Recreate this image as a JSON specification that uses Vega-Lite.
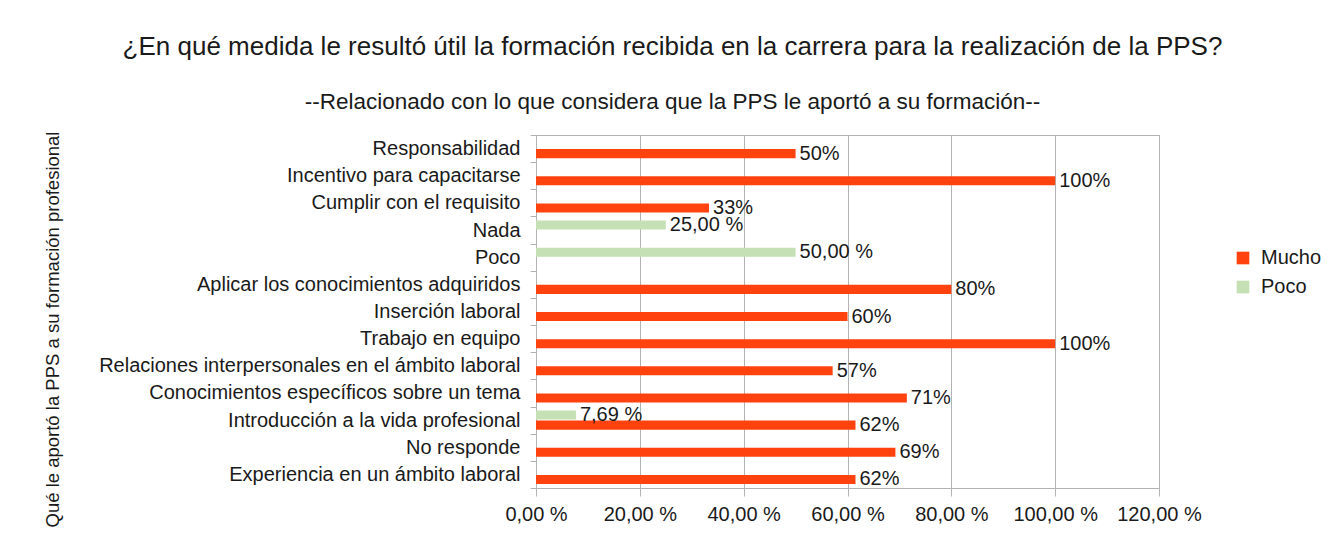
{
  "$schema": "https://vega.github.io/schema/vega-lite/v6.json",
  "width": 623,
  "height": 353,
  "autosize": {"type": "none"},
  "padding": {"left": 536, "top": 135, "right": 177, "bottom": 48},
  "background": "white",
  "title": {
    "text": "¿En qué medida le resultó útil la formación recibida en la carrera para la realización de la PPS?",
    "subtitle": "--Relacionado con lo que considera que la PPS le aportó a su formación--",
    "anchor": "middle",
    "frame": "group",
    "dx": -175,
    "offset": 12,
    "font": "Liberation Sans",
    "fontSize": 26,
    "fontWeight": "normal",
    "color": "#1a1a1a",
    "subtitleFont": "Liberation Sans",
    "subtitleFontSize": 22.5,
    "subtitleColor": "#1a1a1a",
    "subtitlePadding": 31
  },
  "data": {
    "values": [
      {"cat": "Responsabilidad", "serie": "Mucho", "v": 50, "label": "50%"},
      {"cat": "Incentivo para capacitarse", "serie": "Mucho", "v": 100, "label": "100%"},
      {"cat": "Cumplir con el requisito", "serie": "Mucho", "v": 33.33, "label": "33%"},
      {"cat": "Nada", "serie": "Poco", "v": 25, "label": "25,00 %"},
      {"cat": "Poco", "serie": "Poco", "v": 50, "label": "50,00 %"},
      {"cat": "Aplicar los conocimientos adquiridos", "serie": "Mucho", "v": 80, "label": "80%"},
      {"cat": "Inserción laboral", "serie": "Mucho", "v": 60, "label": "60%"},
      {"cat": "Trabajo en equipo", "serie": "Mucho", "v": 100, "label": "100%"},
      {"cat": "Relaciones interpersonales en el ámbito laboral", "serie": "Mucho", "v": 57.14, "label": "57%"},
      {"cat": "Conocimientos específicos sobre un tema", "serie": "Mucho", "v": 71.43, "label": "71%"},
      {"cat": "Introducción a la vida profesional", "serie": "Poco", "v": 7.69, "label": "7,69 %"},
      {"cat": "Introducción a la vida profesional", "serie": "Mucho", "v": 61.54, "label": "62%"},
      {"cat": "No responde", "serie": "Mucho", "v": 69.23, "label": "69%"},
      {"cat": "Experiencia en un ámbito laboral", "serie": "Mucho", "v": 61.54, "label": "62%"}
    ]
  },
  "encoding": {
    "y": {
      "field": "cat",
      "type": "nominal",
      "sort": ["Responsabilidad", "Incentivo para capacitarse", "Cumplir con el requisito", "Nada", "Poco", "Aplicar los conocimientos adquiridos", "Inserción laboral", "Trabajo en equipo", "Relaciones interpersonales en el ámbito laboral", "Conocimientos específicos sobre un tema", "Introducción a la vida profesional", "No responde", "Experiencia en un ámbito laboral"],
      "scale": {"paddingInner": 0, "paddingOuter": 0},
      "axis": {
        "title": "Qué le aportó la PPS a su formación profesional",
        "titleFont": "Liberation Sans",
        "titleFontSize": 18.5,
        "titleFontWeight": "normal",
        "titleColor": "#1a1a1a",
        "titleAngle": -90,
        "titleAlign": "center",
        "titleBaseline": "middle",
        "titleX": -484,
        "titleY": 194,
        "labelFont": "Liberation Sans",
        "labelFontSize": 20,
        "labelColor": "#1a1a1a",
        "labelPadding": 10,
        "labelLimit": 600,
        "labelOverlap": false,
        "tickBand": "extent",
        "tickSize": 6,
        "tickColor": "#b3b3b3",
        "domainColor": "#b3b3b3",
        "grid": false
      }
    },
    "yOffset": {
      "field": "serie",
      "type": "nominal",
      "scale": {"domain": ["Poco", "Mucho"], "paddingInner": 0.1, "paddingOuter": 0.4}
    },
    "x": {
      "field": "v",
      "type": "quantitative",
      "scale": {"domain": [0, 120], "nice": false},
      "axis": {
        "title": null,
        "values": [0, 20, 40, 60, 80, 100, 120],
        "labelExpr": "replace(format(datum.value, '.2f'), '.', ',') + ' %'",
        "labelFont": "Liberation Sans",
        "labelFontSize": 20,
        "labelColor": "#1a1a1a",
        "labelPadding": 8,
        "labelFlush": false,
        "labelOverlap": false,
        "labelAlign": "center",
        "tickSize": 8,
        "tickColor": "#b3b3b3",
        "domainColor": "#b3b3b3",
        "gridColor": "#b3b3b3",
        "grid": true
      }
    }
  },
  "layer": [
    {
      "mark": {"type": "bar"},
      "encoding": {
        "color": {
          "field": "serie",
          "type": "nominal",
          "scale": {"domain": ["Mucho", "Poco"], "range": ["#ff420e", "#c5e0b4"]},
          "legend": {
            "title": null,
            "orient": "none",
            "legendX": 697,
            "legendY": 113,
            "symbolType": "square",
            "symbolSize": 160,
            "symbolStrokeWidth": 0,
            "labelFont": "Liberation Sans",
            "labelFontSize": 20,
            "labelColor": "#1a1a1a",
            "labelOffset": 8,
            "rowPadding": 9
          }
        }
      }
    },
    {
      "mark": {"type": "text", "align": "left", "baseline": "middle", "dx": 4, "font": "Liberation Sans", "fontSize": 20, "color": "#1a1a1a"},
      "encoding": {"text": {"field": "label"}}
    }
  ],
  "config": {
    "view": {"stroke": "#b3b3b3"}
  }
}
